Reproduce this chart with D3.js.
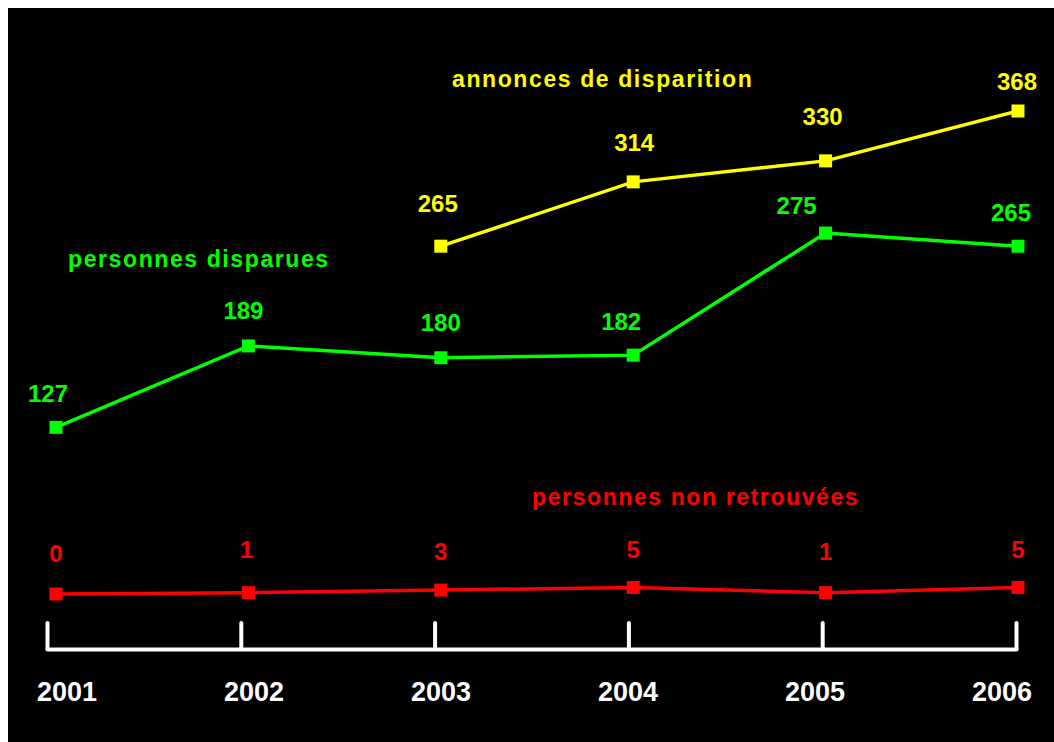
<!DOCTYPE html>
<html>
<head>
<meta charset="utf-8">
<script src="https://cdn.jsdelivr.net/npm/d3@7"></script>
<style>
  html, body { margin: 0; padding: 0; background: #fff; }
  svg { display: block; font-family: "Liberation Sans", Arial, sans-serif; font-weight: bold; }
</style>
</head>
<body>
<div id="chart"></div>
<script>
// data
var years = ["2001", "2002", "2003", "2004", "2005", "2006"];
var annonces = [null, null, 265, 314, 330, 368];
var disparues = [127, 189, 180, 182, 275, 265];
var nonRetrouvees = [0, 1, 3, 5, 1, 5];

var width = 1054, height = 742;

var svg = d3.select("#chart")
    .append("svg")
    .attr("width", width)
    .attr("height", height);

svg.append("rect")
    .attr("x", 8).attr("y", 8)
    .attr("width", width - 8).attr("height", height - 8)
    .style("fill", "#000");

var x = d3.scalePoint().domain(years).range([56, 1018]),
    y = d3.scaleLinear().domain([0, 368]).range([594, 111]),
    xAxisScale = d3.scalePoint().domain(years).range([47, 1016]),
    xLabel = d3.scalePoint().domain(years).range([67, 1002]),
    markerSize = 13;

// axis: white baseline with ticks pointing up
var axis = d3.axisBottom(xAxisScale)
    .tickSizeInner(-26)
    .tickSizeOuter(0)
    .tickFormat("");

var gAxis = svg.append("g")
    .attr("transform", "translate(0,649)")
    .call(axis);

gAxis.select(".domain")
    .style("stroke", "#fff")
    .style("stroke-width", 4)
    .style("stroke-linecap", "round");
gAxis.selectAll(".tick line")
    .style("stroke", "#fff")
    .style("stroke-width", 4)
    .style("stroke-linecap", "round");

svg.selectAll("text.year")
    .data(years)
    .enter()
    .append("text")
    .classed("year", true)
    .attr("x", function (d) { return xLabel(d); })
    .attr("y", 701)
    .attr("text-anchor", "middle")
    .style("fill", "#fff")
    .style("font-size", "27px")
    .text(function (d) { return d; });

// label nudges [dx, dy] from the default spot above each point
var series = [
    { values: annonces, color: "#ffff00", dy: -31, name: "annonces de disparition", lx: 452, ly: 87,
      nudge: [[0, 0], [0, 0], [-3, -3], [1, 0], [-3, -5], [-1, 10]] },
    { values: disparues, color: "#00ff00", dy: -25, name: "personnes disparues", lx: 68, ly: 267,
      nudge: [[-8, 0], [-5, -2], [0, -2], [-12, 0], [-29, 6], [-7, 0]] },
    { values: nonRetrouvees, color: "#ff0000", dy: null, name: "personnes non retrouvées", lx: 532, ly: 505,
      nudge: [[0, 2], [-2, -2], [0, 0], [0, -2], [0, 0], [0, -2]] }
];

var line = d3.line()
    .defined(function (d) { return d.v !== null; })
    .x(function (d) { return x(d.year); })
    .y(function (d) { return y(d.v); });

series.forEach(function (s) {
    var pts = years.map(function (yr, i) { return { year: yr, v: s.values[i], n: s.nudge[i] }; });
    var shown = pts.filter(function (d) { return d.v !== null; });

    svg.append("path")
        .datum(pts)
        .attr("d", line)
        .style("fill", "none")
        .style("stroke", s.color)
        .style("stroke-width", 3.5);

    svg.selectAll(null)
        .data(shown)
        .enter()
        .append("rect")
        .attr("x", function (d) { return x(d.year) - markerSize / 2; })
        .attr("y", function (d) { return y(d.v) - markerSize / 2; })
        .attr("width", markerSize)
        .attr("height", markerSize)
        .style("fill", s.color);

    svg.selectAll(null)
        .data(shown)
        .enter()
        .append("text")
        .attr("x", function (d) { return x(d.year) + d.n[0]; })
        .attr("y", function (d) { return (s.dy === null ? y(0) - 34 : y(d.v) + s.dy) + d.n[1]; })
        .attr("text-anchor", "middle")
        .style("fill", s.color)
        .style("font-size", "24px")
        .text(function (d) { return d.v; });

    svg.append("text")
        .attr("x", s.lx)
        .attr("y", s.ly)
        .style("fill", s.color)
        .style("font-size", "23px")
        .style("letter-spacing", "1.6px")
        .text(s.name);
});
</script>
</body>
</html>
